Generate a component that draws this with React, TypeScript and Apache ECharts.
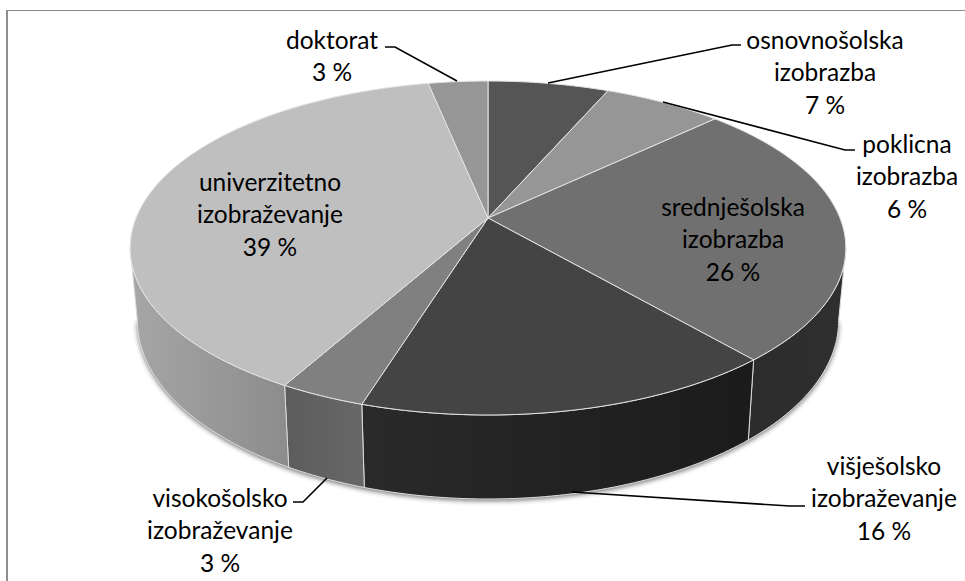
import React, { useEffect, useRef } from "react";
import * as echarts from "echarts";

// Data
const categories = [
  "osnovnošolska\nizobrazba",
  "poklicna\nizobrazba",
  "srednješolska\nizobrazba",
  "višješolsko\nizobraževanje",
  "visokošolsko\nizobraževanje",
  "univerzitetno\nizobraževanje",
  "doktorat",
];
const shares = [6.5, 6.4, 25.8, 16.1, 3.3, 38.7, 3.2];

// Styles
const topColors = ["#555555", "#969696", "#707070", "#444444", "#808080", "#bfbfbf", "#969696"];
const sideColors: [string, string][] = [
  ["#333333", "#333333"],
  ["#5f5f5f", "#5f5f5f"],
  ["#2c2c2c", "#2f2f2f"],
  ["#2a2a2a", "#1b1b1b"],
  ["#5c5c5c", "#686868"],
  ["#a6a6a6", "#8c8c8c"],
  ["#5f5f5f", "#5f5f5f"],
];

// Layout: [centre x, centre y of first line] of each label
const labelPos: [number, number][] = [
  [825, 39], [907, 143], [733, 206], [884, 465], [220, 497], [270, 181], [332, 39],
];
const leaderLines: ([number, number][] | null)[] = [
  [[741, 45], [732, 45], [548, 83]],
  [[855, 150], [845, 150], [663, 102]],
  null,
  [[805, 506], [790, 506], [572, 492]],
  [[293, 502], [303, 502], [327, 478]],
  null,
  [[385, 47], [395, 47], [457, 81]],
];

// Tilted-disc projection
const CX = 488;
const CY = 218;
const A = 352;
const B = 161.6;
const K = 0.1796;
const rad = (d: number) => (d * Math.PI) / 180;
const rim = (deg: number): [number, number] => {
  const a = Math.sin(rad(deg));
  const b = Math.cos(rad(deg));
  const w = 1 + K * b;
  return [CX + (A * a) / w, CY - (B * b) / w];
};
const lower = (p: [number, number]): [number, number] => [
  CX + (p[0] - CX) * 0.98,
  499 + (p[1] - 415) * 1.07,
];
const total = shares.reduce((s, v) => s + v, 0);
const startDeg = (i: number) =>
  (shares.slice(0, i).reduce((s, v) => s + v, 0) / total) * 360;
const arc = (from: number, to: number) => {
  const pts: [number, number][] = [];
  const n = Math.max(1, Math.ceil(to - from));
  for (let j = 0; j <= n; j++) pts.push(rim(from + ((to - from) * j) / n));
  return pts;
};
const VIS_A = (Math.acos(-K) * 180) / Math.PI;
const VIS_B = 360 - VIS_A;

export default function App() {
  const ref = useRef<HTMLDivElement>(null);
  useEffect(() => {
    document.body.style.margin = "0";
    document.body.style.background = "#ffffff";
    const chart = echarts.init(ref.current!, undefined, { renderer: "svg" });
    const seriesData = shares.map((v, i) => ({ name: categories[i], value: v }));

    const labels = shares.map((v, i) => ({
      type: "text",
      x: labelPos[i][0],
      y: labelPos[i][1] - 16,
      z: 50,
      style: {
        text: categories[i] + "\n" + Math.round(v) + " %",
        fontFamily: "Lato, 'Open Sans', sans-serif",
        fontSize: 24.5,
        lineHeight: 32.5,
        fill: "#000000",
        align: "center",
        verticalAlign: "top",
      },
    }));
    const leaders = leaderLines
      .filter((l) => l)
      .map((l) => ({
        type: "polyline",
        z: 40,
        shape: { points: l },
        style: { stroke: "#000000", lineWidth: 1.6, fill: "none" },
      }));

    chart.setOption({
      animation: false,
      backgroundColor: "#ffffff",
      graphic: [
        { type: "rect", z: 30, shape: { x: 6, y: 10, width: 2, height: 571 }, style: { fill: "#8f8f8f" } },
        { type: "rect", z: 30, shape: { x: 6, y: 10, width: 959, height: 1 }, style: { fill: "#8a8a8a" } },
        ...leaders,
        ...labels,
      ],
      series: [
        {
          // soft shadow below the disc's wall
          type: "custom",
          coordinateSystem: "none",
          silent: true,
          z: 1,
          data: [0],
          renderItem: () => {
            const bottom = arc(VIS_A, VIS_B).map(lower);
            return {
              type: "polygon",
              shape: { points: bottom },
              style: {
                fill: "#888888",
                shadowBlur: 5,
                shadowColor: "rgba(0,0,0,0.55)",
                shadowOffsetX: 0,
                shadowOffsetY: 2,
              },
            };
          },
        },
        {
          // walls
          type: "custom",
          coordinateSystem: "none",
          silent: true,
          z: 2,
          data: seriesData,
          renderItem: (params: any) => {
            const i = params.dataIndex;
            const from = Math.max(startDeg(i), VIS_A);
            const to = Math.min(startDeg(i + 1), VIS_B);
            if (to <= from) return { type: "group", children: [] };
            const upper = arc(from, to);
            const pts = upper.concat(upper.map(lower).reverse());
            return {
              type: "polygon",
              shape: { points: pts },
              style: {
                fill: new echarts.graphic.LinearGradient(0, 0, 1, 0, [
                  { offset: 0, color: sideColors[i][0] },
                  { offset: 1, color: sideColors[i][1] },
                ]),
                stroke: "#dcdcdc",
                lineWidth: 1,
              },
            };
          },
        },
        {
          // top faces
          type: "custom",
          coordinateSystem: "none",
          silent: true,
          z: 3,
          data: seriesData,
          renderItem: (params: any) => {
            const i = params.dataIndex;
            const pts = [[CX, CY] as [number, number]].concat(arc(startDeg(i), startDeg(i + 1)));
            return {
              type: "polygon",
              shape: { points: pts },
              style: { fill: topColors[i], stroke: "#e4e4e4", lineWidth: 1 },
            };
          },
        },
      ],
    });
    return () => chart.dispose();
  }, []);
  return (
    <div
      ref={ref}
      style={{ position: "absolute", left: 0, top: 0, width: 965, height: 581, overflow: "hidden" }}
    />
  );
}
